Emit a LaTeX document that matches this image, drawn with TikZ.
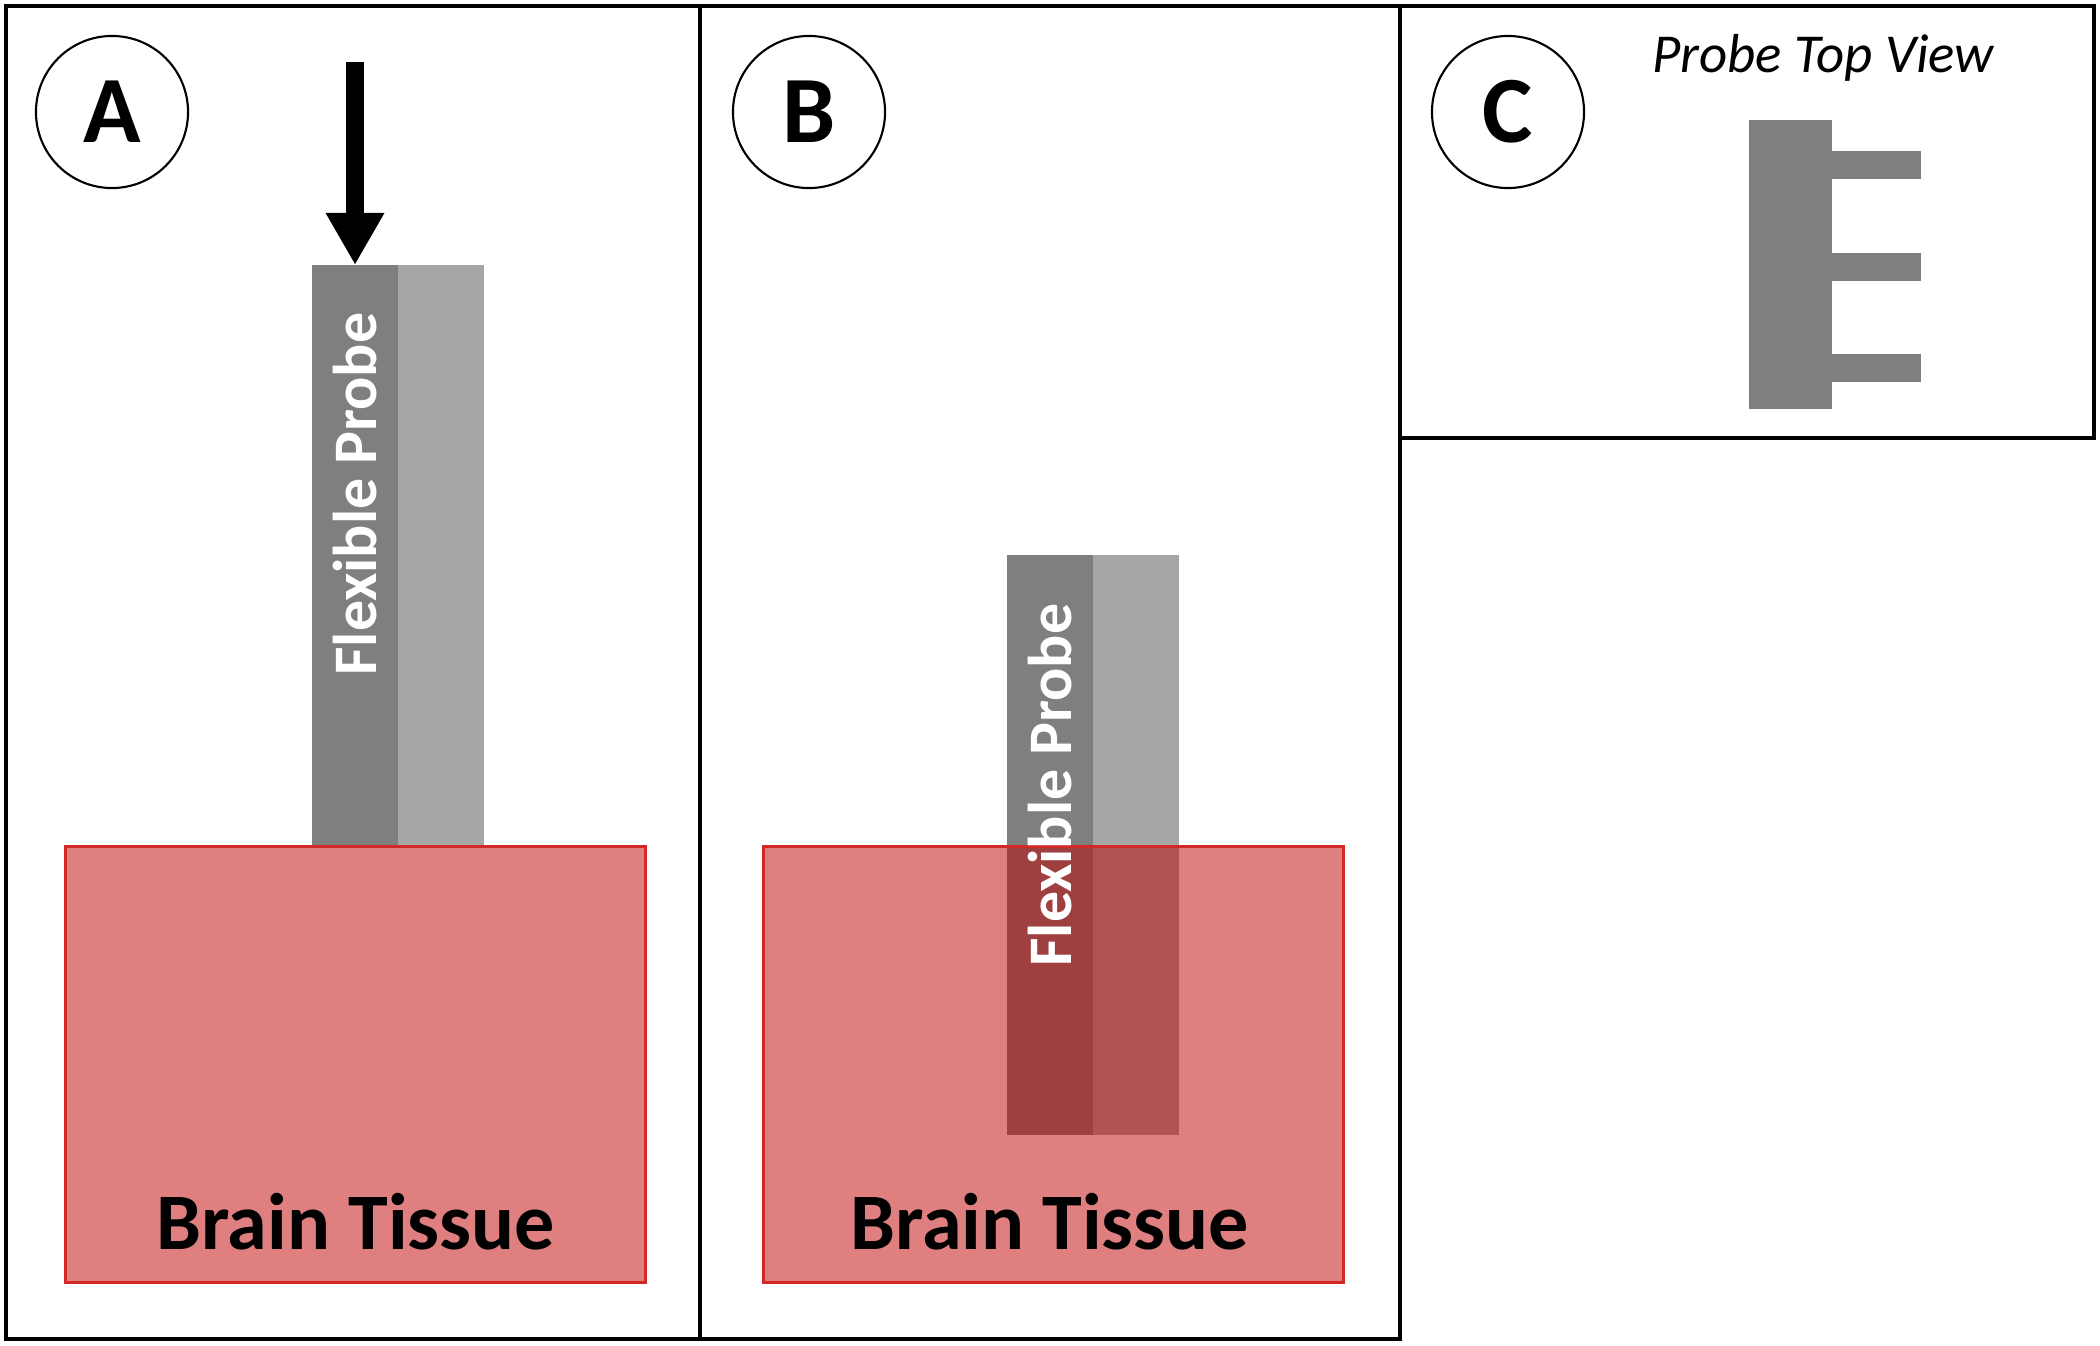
\documentclass[tikz,border=0pt]{standalone}
\usepackage{fontspec}
\setmainfont{Carlito}
\usetikzlibrary{positioning, arrows.meta}

\definecolor{probegray}{RGB}{127,127,127}
\definecolor{probelight}{RGB}{166,166,166}
\definecolor{tissuered}{RGB}{192,0,0}
\definecolor{tissueline}{RGB}{210,40,40}

\tikzset{
  frame/.style={draw=black, line width=1.4pt},
  panellabel/.style={circle, draw=black, line width=0.6pt, minimum size=1.52cm, inner sep=0pt,
    font=\fontsize{27}{30}\selectfont\bfseries},
  probedark/.style={fill=probegray, minimum width=0.86cm, minimum height=5.8cm, inner sep=0pt, outer sep=0pt},
  probelite/.style={probedark, fill=probelight},
  probetext/.style={text=white, rotate=90, inner sep=0pt, font=\fontsize{17.6}{20}\selectfont\bfseries},
  tissue/.style={draw=tissueline, fill=tissuered, fill opacity=0.5, line width=0.85pt,
    minimum width=5.8cm, minimum height=4.36cm, inner sep=0pt},
  tissuetext/.style={inner sep=0pt, font=\fontsize{22.8}{26}\selectfont\bfseries},
  pusharrow/.style={line width=5.1pt, -{Triangle[length=14.8pt, width=15.6pt]}}
}

\begin{document}
\begin{tikzpicture}[x=0.01cm, y=-0.01cm]
  \useasboundingbox (0,0) rectangle (2100,1345);

  % Panel frames
  \draw[frame] (6,6) rectangle (700,1339);
  \draw[frame] (700,6) rectangle (1400,1339);
  \draw[frame] (1400,6) rectangle (2094,438);

  % Panel labels
  \node[panellabel] (labA) at (112,112) {A};
  \node[panellabel] (labB) at (809,112) {B};
  \node[panellabel] (labC) at (1508,112) {C};

  % Panel A: probe above the tissue
  \node[probedark, anchor=north west] (probeA) at (312,265) {};
  \node[probelite, right=0pt of probeA] (probeAl) {};
  \node[probetext, anchor=east] (ptextA) at ([yshift=-0.47cm]probeA.north) {Flexible Probe};
  \node[tissue, anchor=north west] (tissueA) at (64,845) {};
  \node[tissuetext, anchor=base] (ttextA) at ([yshift=0.35cm]tissueA.south) {Brain Tissue};

  % Insertion force
  \coordinate (push) at (355,62);
  \draw[pusharrow] (push) -- (probeA.north);

  % Panel B: probe inserted
  \node[probedark, anchor=north west] (probeB) at (1007,555) {};
  \node[probelite, right=0pt of probeB] (probeBl) {};
  \node[tissue, anchor=north west] (tissueB) at (762,845) {};
  \node[probetext, anchor=east] (ptextB) at ([yshift=-0.48cm]probeB.north) {Flexible Probe};
  \node[tissuetext, anchor=base] (ttextB) at ([xshift=-0.04cm, yshift=0.35cm]tissueB.south) {Brain Tissue};

  % Panel C: top view
  \node[inner sep=0pt, anchor=base, font=\fontsize{15.6}{18}\selectfont\itshape] (topview) at (1823,72) {Probe Top View};
  \fill[probegray] (1749,120) rectangle (1832,409);
  \foreach \y in {165,267,368}
    \fill[probegray] (1830,\y-14) rectangle (1921,\y+14);
\end{tikzpicture}
\end{document}
